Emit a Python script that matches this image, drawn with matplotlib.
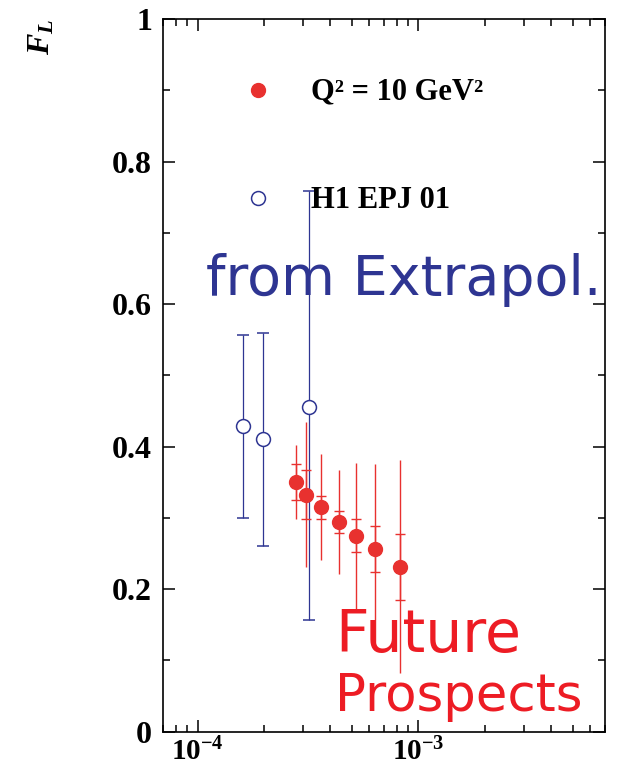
import numpy as np
import matplotlib
matplotlib.use("Agg")
import matplotlib.pyplot as plt
from matplotlib.ticker import LogLocator, MultipleLocator, FixedLocator, FuncFormatter

plt.rcParams['font.family'] = ['Liberation Serif', 'DejaVu Serif']
plt.rcParams['mathtext.fontset'] = 'custom'
plt.rcParams['mathtext.rm'] = 'Liberation Serif:bold'
plt.rcParams['mathtext.bf'] = 'Liberation Serif:bold'
plt.rcParams['mathtext.it'] = 'Liberation Serif:italic:bold'

# Future prospects, Q^2 = 10 GeV^2
x_fut = [2.78e-4, 3.10e-4, 3.62e-4, 4.35e-4, 5.21e-4, 6.37e-4, 8.30e-4]
y_fut = [0.350, 0.332, 0.315, 0.294, 0.275, 0.256, 0.231]
stat_hi = [0.376, 0.367, 0.331, 0.310, 0.299, 0.288, 0.278]
stat_lo = [0.325, 0.298, 0.298, 0.279, 0.252, 0.224, 0.185]
tot_hi = [0.402, 0.434, 0.389, 0.367, 0.377, 0.376, 0.381]
tot_lo = [0.298, 0.231, 0.241, 0.221, 0.172, 0.114, 0.082]

# H1 EPJ 01 extrapolation
x_h1 = [1.61e-4, 1.98e-4, 3.20e-4]
y_h1 = [0.429, 0.411, 0.456]
h1_hi = [0.556, 0.559, 0.758]
h1_lo = [0.300, 0.261, 0.157]

red = '#e8312f'
blue = '#2e3592'

y_fut = np.array(y_fut)
y_h1 = np.array(y_h1)
err_stat = [y_fut - np.array(stat_lo), np.array(stat_hi) - y_fut]
err_tot = [y_fut - np.array(tot_lo), np.array(tot_hi) - y_fut]
err_h1 = [y_h1 - np.array(h1_lo), np.array(h1_hi) - y_h1]

fig = plt.figure(figsize=(6.19, 7.69), dpi=100)
ax = fig.add_axes([0.2638, 0.0485, 0.7136, 0.9268])

ax.errorbar(x_h1, y_h1, yerr=err_h1, fmt='o', color=blue, mfc='white', mec=blue,
            ms=10, mew=1.1, elinewidth=0.9, capsize=4.2, capthick=0.9, zorder=3)
ax.errorbar(x_fut, y_fut, yerr=err_tot, fmt='none', ecolor=red, elinewidth=1.0, zorder=4)
ax.errorbar(x_fut, y_fut, yerr=err_stat, fmt='o', color=red, ms=10, elinewidth=1.0,
            capsize=3.6, capthick=1.0, zorder=5)

ax.set_xscale('log')
ax.set_xlim(7e-5, 7e-3)
ax.set_ylim(0, 1)

ax.xaxis.set_major_locator(FixedLocator([1e-4, 1e-3]))
ax.xaxis.set_minor_locator(LogLocator(base=10, subs=np.arange(2, 10)))
ax.xaxis.set_major_formatter(FuncFormatter(
    lambda v, p: r'$\mathbf{10^{%d}}$' % int(round(np.log10(v)))))
ax.xaxis.set_minor_formatter(FuncFormatter(lambda v, p: ''))
ax.yaxis.set_major_locator(MultipleLocator(0.2))
ax.yaxis.set_minor_locator(MultipleLocator(0.1))
ax.yaxis.set_major_formatter(FuncFormatter(lambda v, p: '0' if v == 0 else ('1' if v == 1 else '%g' % v)))

ax.tick_params(which='both', direction='in', top=True, right=True, width=1.1)
ax.tick_params(which='major', length=8.5)
ax.tick_params(which='minor', length=5)
ax.tick_params(axis='y', labelsize=23, pad=8)
ax.tick_params(axis='x', labelsize=21, pad=4.5)
for lab in ax.get_yticklabels():
    lab.set_fontweight('bold')
for s in ax.spines.values():
    s.set_linewidth(1.2)

fig.text(42 / 619, 1 - 37 / 769, r'$F_L$', rotation=90, fontsize=23,
         ha='center', va='center')

# legend by hand
ax.plot([0.2147], [0.900], 'o', color=red, ms=10, transform=ax.transAxes, clip_on=False)
ax.plot([0.2147], [0.7484], 'o', color=blue, mfc='white', ms=10, mew=1.1,
        transform=ax.transAxes, clip_on=False)
ax.text(0.334, 0.898, 'Q² = 10 GeV²', transform=ax.transAxes, fontsize=22,
        fontweight='bold', va='center', ha='left')
ax.text(0.334, 0.746, 'H1 EPJ 01', transform=ax.transAxes, fontsize=22,
        fontweight='bold', va='center', ha='left')

ax.text(0.097, 0.6127, 'from Extrapol.', transform=ax.transAxes, fontsize=40,
        color=blue, family='DejaVu Sans', va='baseline', ha='left', zorder=6)
ax.text(0.389, 0.112, 'Future', transform=ax.transAxes, fontsize=42,
        color='#ed1c24', family='DejaVu Sans', va='baseline', ha='left', zorder=6)
ax.text(0.389, 0.029, 'Prospects', transform=ax.transAxes, fontsize=37,
        color='#ed1c24', family='DejaVu Sans', va='baseline', ha='left', zorder=6)

fig.savefig('out.png', dpi=100)
